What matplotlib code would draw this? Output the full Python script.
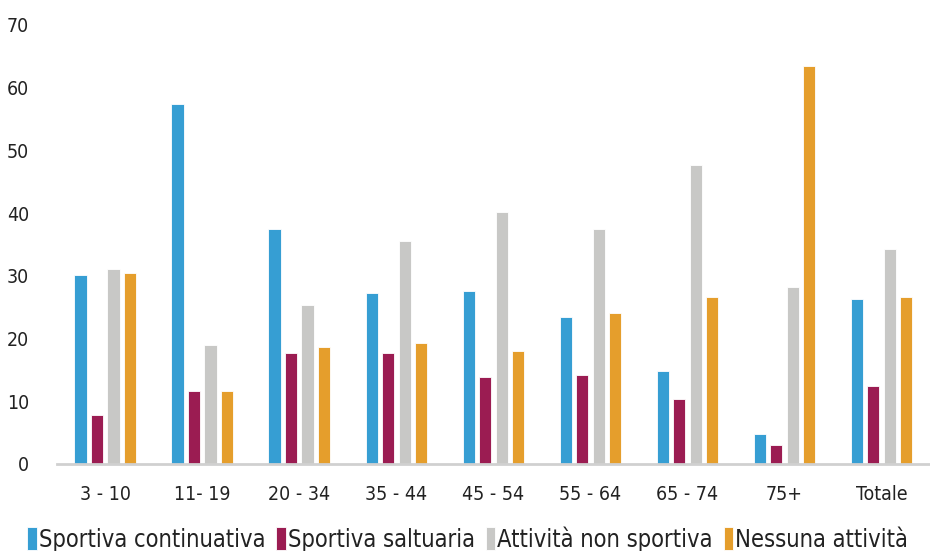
import matplotlib.pyplot as plt
import numpy as np

plt.rcParams['font.family'] = ['DejaVu Sans']
plt.rcParams['font.stretch'] = 'condensed'

categories = ['3 - 10', '11- 19', '20 - 34', '35 - 44', '45 - 54', '55 - 64', '65 - 74', '75+', 'Totale']
continuativa = [30.1, 57.3, 37.5, 27.2, 27.5, 23.4, 14.8, 4.8, 26.3]
saltuaria = [7.8, 11.6, 17.7, 17.7, 13.8, 14.1, 10.3, 3.0, 12.5]
non_sportiva = [31.1, 18.9, 25.3, 35.6, 40.1, 37.5, 47.7, 28.2, 34.3]
nessuna = [30.5, 11.6, 18.6, 19.3, 18.0, 24.0, 26.6, 63.4, 26.6]

series = [continuativa, saltuaria, non_sportiva, nessuna]
labels = ['Sportiva continuativa', 'Sportiva saltuaria', 'Attività non sportiva', 'Nessuna attività']
colors = ['#369ed3', '#9b1c52', '#c8c8c6', '#e59e2c']

fig = plt.figure(figsize=(9.3, 5.51), dpi=100)
ax = fig.add_axes([0.061, 0.158, 0.939, 0.797])

x = np.arange(len(categories))
w = 0.125
step = 0.17
for i, (vals, lab, col) in enumerate(zip(series, labels, colors)):
    ax.bar(x + (i - 1.5) * step, vals, w, color=col, label=lab,
           edgecolor='white', linewidth=0.6)

ax.set_ylim(0, 70)
ax.set_xlim(-0.5, len(categories) - 0.5)
ax.set_yticks(range(0, 71, 10))
ax.set_xticks(x)
ax.set_xticklabels(categories)
ax.tick_params(length=0, labelsize=14, colors='#222222')
ax.tick_params(axis='x', pad=15)
ax.tick_params(axis='y', pad=20)
for s in ['top', 'right', 'left']:
    ax.spines[s].set_visible(False)
ax.spines['bottom'].set_color('#d0d0d0')
ax.spines['bottom'].set_linewidth(2)

fig.legend(loc='center', bbox_to_anchor=(0.503, 0.022), ncol=4, frameon=False,
           fontsize=17, handlelength=0.4, handleheight=1.1, handletextpad=0.1,
           columnspacing=0.45, labelcolor='#222222')

fig.savefig('out.png', dpi=100)
